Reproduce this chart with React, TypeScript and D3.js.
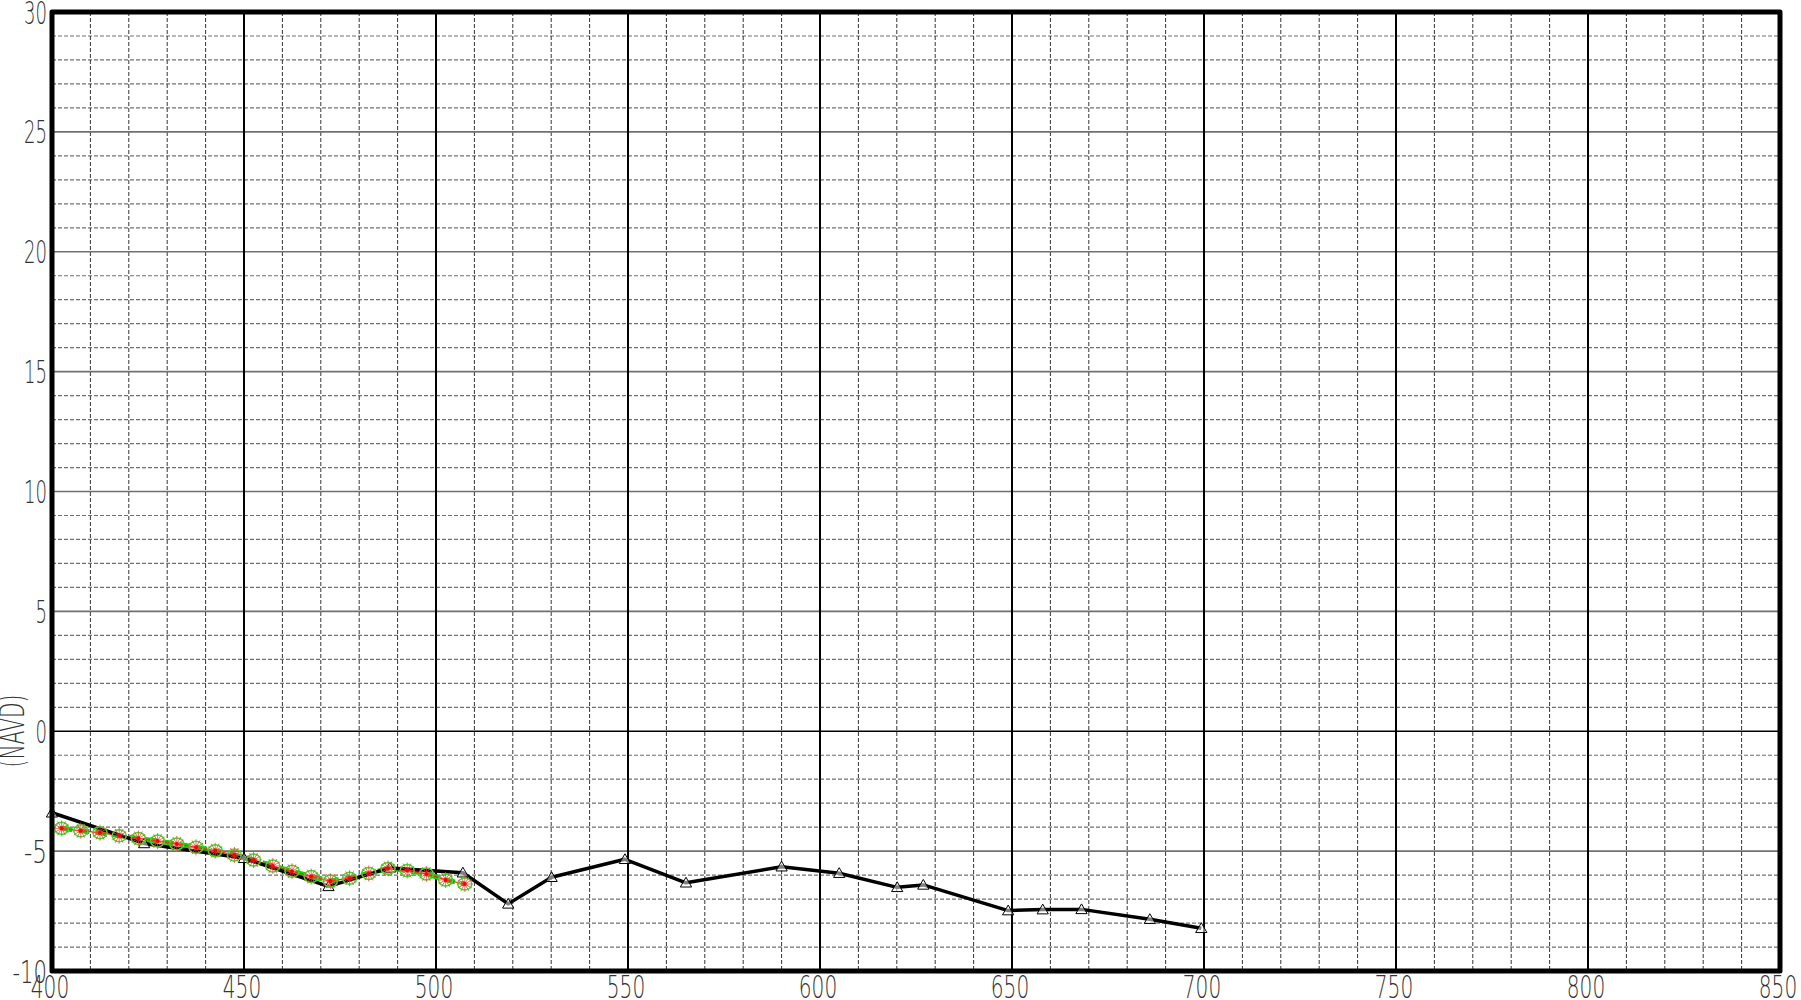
import React from "react";
import * as d3 from "d3";

// Survey profile (black, triangles)
const surveyX = [400, 424, 450, 472, 488, 507, 518.8, 530.1, 549.2, 565.1, 590, 605, 620.1, 626.9, 649, 658, 668.1, 685.9, 699.3];
const surveyY = [-3.4, -4.68, -5.3, -6.47, -5.7, -5.9, -7.2, -6.09, -5.34, -6.32, -5.65, -5.92, -6.51, -6.41, -7.48, -7.44, -7.43, -7.84, -8.22];

// Model profiles (green dashed / red asterisk)
const modelX = [402.5, 407.5, 412.5, 417.5, 422.5, 427.5, 432.5, 437.5, 442.5, 447.5, 452.5, 457.5, 462.5, 467.5, 472.5, 477.5, 482.5, 487.5, 492.5, 497.5, 502.5, 507.5];
const greenY = [-4.05, -4.15, -4.23, -4.36, -4.47, -4.58, -4.7, -4.84, -4.98, -5.16, -5.37, -5.62, -5.84, -6.06, -6.25, -6.13, -5.93, -5.72, -5.81, -5.95, -6.2, -6.37];
const redY = [-4.05, -4.15, -4.23, -4.36, -4.47, -4.58, -4.7, -4.84, -4.98, -5.16, -5.37, -5.62, -5.84, -6.06, -6.25, -6.13, -5.93, -5.72, -5.81, -5.95, -6.2, -6.37];

const xTicks = [400, 450, 500, 550, 600, 650, 700, 750, 800, 850];
const yTicks = [30, 25, 20, 15, 10, 5, 0, -5, -10];
const yLabel = "(NAVD)";

const X0 = 52, X1 = 1780, Y0 = 12, Y1 = 971;
const FONT = "'DejaVu Sans', sans-serif";

export default function App() {
  const x = d3.scaleLinear().domain([400, 850]).range([X0, X1]);
  const y = d3.scaleLinear().domain([-10, 30]).range([Y1, Y0]);

  const minorV = d3.range(400, 851, 10).filter((v) => v % 50 !== 0);
  const majorV = d3.range(450, 850, 50);
  const minorH = d3.range(-10, 31, 1).filter((v) => v % 5 !== 0);
  const majorH = d3.range(-5, 30, 5);

  const line = d3.line<[number, number]>().x((d) => x(d[0])).y((d) => y(d[1]));
  const survey = surveyX.map((v, i) => [v, surveyY[i]] as [number, number]);
  const green = modelX.map((v, i) => [v, greenY[i]] as [number, number]);
  const red = modelX.map((v, i) => [v, redY[i]] as [number, number]);

  const tri = d3.symbol().type(d3.symbolTriangle).size(55)();
  const spokes = d3.range(0, 180, 30);

  return (
    <svg width={1801} height={1000} style={{ position: "absolute", left: 0, top: 0, background: "#fff" }}>
      <rect x={0} y={0} width={1801} height={1000} fill="#fff" />
      {/* minor grid */}
      {minorH.map((v) => (
        <line key={"mh" + v} x1={X0} x2={X1} y1={y(v)} y2={y(v)} stroke="#707070" strokeWidth={1.2} strokeDasharray="4,2" />
      ))}
      {minorV.map((v) => (
        <line key={"mv" + v} x1={x(v)} x2={x(v)} y1={Y0} y2={Y1} stroke="#333" strokeWidth={1} strokeDasharray="4,2" />
      ))}
      {/* major grid */}
      {majorH.map((v) => (
        <line key={"Mh" + v} x1={X0} x2={X1} y1={y(v)} y2={y(v)} stroke={v === 0 ? "#000" : "#707070"} strokeWidth={1.6} />
      ))}
      {majorV.map((v) => (
        <line key={"Mv" + v} x1={x(v)} x2={x(v)} y1={Y0} y2={Y1} stroke="#000" strokeWidth={2} />
      ))}

      {/* model series */}
      <path d={line(green) || ""} fill="none" stroke="#00dd00" strokeWidth={5} strokeDasharray="11,6" />
      <path d={line(red) || ""} fill="none" stroke="#ff2020" strokeWidth={1.2} />
      {/* survey line */}
      <path d={line(survey) || ""} fill="none" stroke="#000" strokeWidth={3.5} strokeLinejoin="round" />
      {survey.map((d, i) => (
        <path key={"t" + i} d={tri || ""} transform={`translate(${x(d[0])},${y(d[1]) + 1})`} fill="#fff" fillOpacity={0.5} stroke="#000" strokeWidth={1} />
      ))}
      {green.map((d, i) => (
        <ellipse key={"g" + i} cx={x(d[0])} cy={y(d[1])} rx={7} ry={6} fill="none" stroke="#22ee22" strokeWidth={1.5} />
      ))}
      {red.map((d, i) => (
        <g key={"r" + i} transform={`translate(${x(d[0])},${y(d[1])})`}>
          {spokes.map((a) => (
            <line key={a} x1={-8 * Math.cos((a * Math.PI) / 180)} y1={-8 * Math.sin((a * Math.PI) / 180)} x2={8 * Math.cos((a * Math.PI) / 180)} y2={8 * Math.sin((a * Math.PI) / 180)} stroke="#ff4040" strokeOpacity={0.8} strokeWidth={1} />
          ))}
          <circle r={2} fill="#ff0000" />
        </g>
      ))}

      {/* border */}
      <rect x={X0} y={Y0} width={X1 - X0} height={Y1 - Y0} fill="none" stroke="#000" strokeWidth={5} strokeLinejoin="round" />

      {/* y tick labels */}
      {yTicks.map((v) => {
        const s = String(v);
        return (
          <text key={"yl" + v} x={47} y={y(v) + 11.5} textAnchor="end" fontFamily={FONT} fontWeight={200} fontSize={32} fill="#333"
            textLength={s.length * 11.5} lengthAdjust="spacingAndGlyphs">{s}</text>
        );
      })}
      {/* x tick labels */}
      {xTicks.map((v) => {
        const s = String(v);
        return (
          <text key={"xl" + v} x={x(v) - 2} y={998} textAnchor="middle" fontFamily={FONT} fontWeight={200} fontSize={32} fill="#333"
            textLength={s.length * 12.8} lengthAdjust="spacingAndGlyphs">{s}</text>
        );
      })}
      {/* y axis label */}
      <text transform={`translate(24,731) rotate(-90)`} textAnchor="middle" fontFamily={FONT} fontWeight={200} fontSize={33} fill="#333"
        textLength={73} lengthAdjust="spacingAndGlyphs">{yLabel}</text>
    </svg>
  );
}
